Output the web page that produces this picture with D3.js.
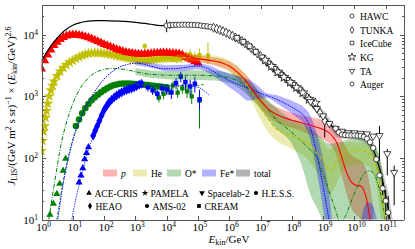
<!DOCTYPE html>
<html>
<head>
<meta charset="utf-8">
<script src="https://d3js.org/d3.v7.min.js"></script>
<style>
  body { margin: 0; background: #fff; }
  svg text { font-family: "Liberation Serif", "DejaVu Serif", serif; fill: #000; }
  .axis path, .axis line { stroke: #555; shape-rendering: crispEdges; }
</style>
</head>
<body>
<svg width="415" height="249"></svg>
<script>
// energies are log10(E_kin/GeV), fluxes are J x E^2.6

// proton data
var pLogE = [0,0.1,0.2,0.3,0.4,0.5,0.6,0.7,0.8,0.9,1.0,1.1,1.2,1.3,1.4,1.5,1.6,1.7,1.8,1.9,2.0,2.1,2.2,2.3,2.4,2.5,2.6,2.7,2.8,2.9,3.0,3.1,3.2,3.3,3.4,3.5,3.6,3.7,3.8,3.9,4.0,4.1,4.2,4.3,4.4,4.5,4.6,4.7,4.8,4.9,5.0];
var pFlux = [2800,3800,4700,5700,6700,7600,8400,9100,9600,9900,10000,10000,9800,9600,9300,9000,8600,8200,7800,7400,7000,6700,6400,6100,5800,5600,5400,5200,5100,5000,4900,4850,4800,4850,4900,4950,5000,5050,5100,5100,5100,5050,5000,4950,4900,4700,4300,4100,3900,3700,3500];

// helium data
var heLogE = [0,0.03,0.06,0.1,0.13,0.16,0.2,0.25,0.3,0.35,0.4,0.5,0.6,0.7,0.8,0.9,1.0,1.1,1.2,1.3,1.4,1.5,1.6,1.7,1.8,1.9,2.0,2.1,2.2,2.3,2.4,2.5,2.6,2.7,2.8,2.9,3.0,3.1,3.2,3.3,3.4,3.5,3.6,3.7,3.8,3.9,4.0,4.1,4.2,4.3,4.4];
var heFlux = [130,190,270,330,450,580,760,1000,1250,1500,1750,2150,2550,2900,3250,3550,3800,4100,4350,4600,4800,4950,5050,5100,5100,5050,5000,4900,4800,4700,4550,4450,4350,4250,4150,4050,4000,3950,3900,3900,3900,3950,4000,4050,4100,4150,4200,4200,4150,4150,4100];
var heErrE = [3.3,4.5,4.65,4.75,4.9,5.05,5.32];
var heErr = [6500,4900,4600,4800,4400,4700,4600];
var heErrLo = [5000,4200,3900,4000,3600,3800,3300];
var heErrHi = [7300,5600,5400,5800,5300,5900,7500];

// oxygen data
var oTriE = [0.27,0.38,0.49,0.58,0.69,0.77];
var oTri = [12,18,26,38,62,97];
var oLogE = [1.1,1.2,1.3,1.4,1.5,1.6,1.7,1.8,1.9,2.0,2.1,2.2,2.3,2.4,2.5,2.6,2.7,2.8,2.9,3.0,3.1,3.2,3.3,3.4,3.5,3.6,3.7,3.8,3.9,4.0];
var oFlux = [330,420,530,640,750,860,960,1060,1160,1260,1350,1440,1510,1560,1600,1620,1620,1610,1600,1580,1560,1550,1540,1520,1500,1480,1460,1440,1420,1400];
var oErrE = [3.6,3.75,3.9,4.05,4.2,4.35,4.5,4.65,4.8,5.05];
var oErr = [1300,950,1100,1250,1500,1150,1350,1200,1000,850];
var oErrLo = [1100,800,900,1050,1250,950,1100,950,750,300];
var oErrHi = [1500,1150,1300,1450,1750,1350,1600,1450,1300,1300];

// iron data
var feTriE = [1.2,1.26,1.32,1.38,1.44,1.5];
var feTri = [40,52,68,95,120,150];
var feLogE = [1.65,1.72,1.78,1.85,1.92,2.0,2.08,2.16,2.24,2.32,2.4,2.48,2.56,2.64,2.72,2.8,2.88,2.96,3.04,3.12,3.2];
var feFlux = [230,280,330,400,490,600,700,800,880,960,1030,1100,1160,1220,1270,1310,1350,1400,1470,1550,1600];
var feErrE = [3.4,3.55,3.7,3.85,4.0,4.15,4.3,4.45,4.6,4.75,4.9,5.05];
var feErr = [1400,1250,1100,1350,1300,1150,1650,2100,1700,1450,1600,900];
var feErrLo = [1200,1050,900,1100,1050,900,1300,1700,1300,1050,1150,600];
var feErrHi = [1600,1450,1300,1600,1550,1400,2000,2500,2100,1850,2050,1250];

// models
var pModE = [4.5,5.0,5.5,5.75,6.0,6.25,6.5,6.75,7.0,7.25,7.5,7.75,8.0,8.25,8.5,8.75,9.0,9.25,9.45,9.6,9.76,9.91,10.05,10.2,10.3,10.4,10.5,10.6];
var pMod = [4600,4100,3750,3500,3100,2500,1850,1250,850,620,510,450,410,380,350,320,290,240,170,100,56,40,36,35,30,20,10,5];
var pModLo = [4200,3600,3200,2900,2600,2000,1450,950,650,470,380,340,310,280,250,230,200,160,100,50,25,15,12,10,7,4,2,1];
var pModHi = [5000,4600,4300,4100,3700,3100,2350,1650,1100,800,680,600,540,500,470,440,410,360,280,200,140,110,100,90,80,60,35,15];

var heModE = [4.3,4.75,5.25,5.75,6.0,6.25,6.5,6.75,7.0,7.25,7.5,7.75,8.0,8.25,8.5,8.75,9.0,9.2,9.4,9.6,9.8,10.0,10.2,10.5,10.7,10.85,11.0];
var heMod = [4200,4300,4100,3600,3100,2400,1700,1100,650,420,300,255,230,205,175,130,90,62,80,115,130,132,130,117,70,30,9];
var heModLo = [3700,3800,3500,3000,2500,1850,1250,750,420,260,190,160,140,120,95,65,40,25,35,60,75,80,80,70,35,10,2];
var heModHi = [4700,4900,4800,4300,3800,3100,2300,1550,1000,680,480,400,360,330,300,240,180,140,150,170,180,180,180,165,120,70,25];

var oStarE = [0.23,0.4,0.65,0.9,1.1,1.3,1.5,1.7,1.9,2.1,2.3,2.5,2.8,3.1,3.4,3.7,4.0,4.3,4.6,5.0,5.5,6.0,6.25,6.5,6.75,7.0,7.25,7.5,7.75,8.0,8.2,8.5,8.8,9.0,9.2,9.4,9.55,9.7,9.9,10.1,10.3,10.45,10.6,10.75,10.9,11.0];
var oStar = [10,35,190,550,1000,1500,2000,2400,2650,2800,2850,2800,2650,2450,2300,2250,2200,2200,2200,2200,2150,2000,1800,1500,1150,850,600,420,330,260,210,150,100,55,28,14,9,11,20,35,55,62,58,38,18,8];
var oBandE = [3.0,3.5,4.0,4.5,5.0,5.5,6.0,6.5,7.0,7.5,8.0,8.3,8.6,8.9,9.2,9.5,9.8,10.1,10.4,10.7,10.9,11.05];
var oBandLo = [2250,2000,1900,1850,1850,1800,1650,1150,620,300,170,80,25,12,4,3,3,3,5,3,3,2];
var oBandHi = [2850,2650,2550,2600,2650,2600,2400,1900,1150,650,420,380,300,220,170,180,200,210,200,150,60,15];

var oLowE = [0.49,0.6,0.75,0.9,1.0,1.2,1.4,1.6,1.8,2.0,2.2,2.4,2.6,2.8,3.0,3.3,3.6,4.0,4.5,5.0,5.25];
var oLow = [10,22,60,130,200,380,600,850,1080,1280,1450,1560,1610,1610,1580,1530,1480,1420,1450,1500,1600];

var feStarE = [0.52,0.7,0.9,1.1,1.3,1.5,1.75,2.0,2.25,2.5,2.75,3.0,3.3,3.6,3.9,4.2,4.5,4.8,5.0,5.4,5.7,6.0,6.3,6.6,6.9,7.2,7.5,7.8,8.1,8.4,8.6,8.75,8.9,9.05,9.2];
var feStar = [10,40,120,280,500,800,1300,1900,2500,3000,3300,3450,3300,3000,2800,2800,2900,3050,3100,2700,2200,1800,1550,1350,1180,1030,900,760,620,470,300,150,65,25,9];
var feBandE = [3.0,3.5,4.0,4.5,5.0,5.4,5.7,6.0,6.3,6.6,6.9,7.2,7.5,7.8,8.1,8.4,8.6,8.75,8.9,9.05,9.2,9.3];
var feBandLo = [3200,2900,2550,2550,2750,2300,1800,1400,1100,850,900,950,780,620,480,340,190,80,30,10,3,2];
var feBandHi = [3700,3500,3200,3250,3450,3100,2650,2300,2100,1900,1500,1120,1050,930,800,650,480,300,160,70,25,8];
var feBand2E = [10.1,10.25,10.4,10.55,10.7,10.85];
var feBand2Lo = [2,2,2,2,2,2];
var feBand2Hi = [4,12,19,18,11,4];

var feLowE = [0.97,1.1,1.25,1.4,1.6,1.8,2.0,2.2,2.4,2.6,2.8,3.0,3.3,3.6,4.0,4.5,5.0,5.35];
var feLow = [10,22,45,90,190,340,520,720,920,1100,1250,1350,1450,1480,1480,1500,1400,1050];

var totE = [0,0.25,0.5,0.75,1.0,1.25,1.5,1.75,2.0,2.5,3.0,3.5,3.8,4.0,4.5,5.0,5.5,6.0,6.5,7.0,7.5,8.0,8.5,9.0,9.5,10.0,10.3,10.5,10.7,10.85,11.0,11.1,11.2];
var tot = [3800,6000,8800,11800,14300,15800,16700,17000,17000,16600,15900,14800,14100,14100,14400,14400,13200,10300,7200,4500,2650,1600,960,500,260,235,215,175,100,55,24,13,6];
var totBandE = [5.0,6.0,7.0,8.0,9.0,9.5,10.0,10.3,10.5,10.7,10.85,11.0,11.1,11.2,11.3];
var totBandLo = [13000,9300,4000,1400,420,210,200,180,140,75,38,15,7,3,1];
var totBandHi = [15800,11400,5000,1800,600,310,275,255,215,135,80,40,25,12,5];

// air shower data
var hawcE = [4.0,4.1,4.2,4.3,4.4,4.5,4.6,4.7,4.8,4.9,5.0,5.1,5.2,5.3,5.4];
var hawc = [14100,14300,14400,14500,14500,14600,14600,14500,14500,14400,14300,14100,13900,13700,13400];
var hawcBarE = [4.0,4.1];
var hawcBarLo = [11000,12500];
var hawcBarHi = [17500,16300];
var tunkaE = [5.5,5.6,5.7,5.8,5.9,6.0,6.1,6.2,6.3,6.4,6.5,6.6,6.7,6.8,6.9,7.0,7.1,7.2,7.3,7.4,7.5,7.6,7.7,7.8,7.9,8.0,8.1,8.2,8.3,8.4,8.5,8.6,8.7,8.8,8.9,9.05];
var tunka = [13000,12500,12000,11400,10800,10200,9600,9000,8500,7900,7300,6700,6100,5500,5000,4500,4000,3600,3200,2900,2600,2350,2150,1950,1750,1600,1450,1320,1200,1080,960,850,740,640,540,400];
var tunkaBarE = [9.05];
var tunkaBarLo = [215];
var tunkaBarHi = [490];
var iceE = [6.25,6.45,6.65,6.85,7.05,7.25,7.45,7.65,7.85,8.05,8.25];
var ice = [8900,7700,6500,5300,4300,3450,2800,2250,1850,1550,1300];
var kgE = [7.15,7.35,7.55,7.75,7.95,8.15,8.35,8.55,8.75];
var kg = [3900,3100,2500,2050,1700,1400,1150,900,780];
var taE = [8.6,8.8,9.0,9.2,9.4,9.6,9.8,10.0,10.2,10.4,10.6,10.8,11.05,11.27];
var ta = [820,630,480,360,300,270,255,255,250,245,225,230,117,58];
var taBarE = [10.8,11.05,11.27];
var taBarLo = [90,52,17];
var taBarHi = [330,140,75];
var augerE = [9.4,9.5,9.6,9.7,9.8,9.9,10.0,10.1,10.2,10.3,10.4,10.5,10.6,10.7,10.8,10.9,11.0,11.08];
var auger = [300,260,240,235,232,232,232,230,228,220,205,180,145,95,52,32,20,13];
var augerBarE = [10.9,11.0,11.08];
var augerBarLo = [25,12,5];
var augerBarHi = [40,30,24];

var xTicks = [0,1,2,3,4,5,6,7,8,9,10,11];
var yTicks = [1,2,3,4];

var RED = "#ff0000", YEL = "#bfbf00", GRN = "#008000", BLU = "#0000ff", BLK = "#000000";

// scales
var x = d3.scaleLog().domain([1, 3.7e11]).range([41.5, 403.5]);
var y = d3.scaleLog().domain([10, 3.1e4]).range([219.5, 4.5]);

var svg = d3.select("svg");
svg.append("defs").append("clipPath").attr("id", "plot")
  .append("rect").attr("x", 41.5).attr("y", 4.5).attr("width", 362).attr("height", 215);
var plot = svg.append("g").attr("clip-path", "url(#plot)");

function pts(es, vs) { return es.map(function(e, i) { return [Math.pow(10, e), vs[i]]; }); }
function band(es, lo, hi) { return es.map(function(e, i) { return [Math.pow(10, e), lo[i], hi[i]]; }); }

var line = d3.line().x(function(d) { return x(d[0]); }).y(function(d) { return y(d[1]); }).curve(d3.curveMonotoneX);
var area = d3.area().x(function(d) { return x(d[0]); })
  .y0(function(d) { return y(d[1]); }).y1(function(d) { return y(d[2]); }).curve(d3.curveMonotoneX);

function sym(type, size) { return d3.symbol().type(type).size(size); }

function markers(g, data, type, size, fill, stroke, rot) {
  g.selectAll(null).data(data).enter().append("path")
    .attr("d", sym(type, size))
    .attr("transform", function(d) { return "translate(" + x(d[0]) + "," + y(d[1]) + ")" + (rot ? " rotate(180)" : ""); })
    .attr("fill", fill).attr("stroke", stroke || "none").attr("stroke-width", 0.7);
}

function errbars(g, es, lo, hi, color) {
  g.selectAll(null).data(band(es, lo, hi)).enter().append("line")
    .attr("x1", function(d) { return x(d[0]); }).attr("x2", function(d) { return x(d[0]); })
    .attr("y1", function(d) { return y(d[1]); }).attr("y2", function(d) { return y(d[2]); })
    .attr("stroke", color).attr("stroke-width", 1);
}

// data points
var gData = plot.append("g");
markers(gData, pts(heLogE, heFlux), d3.symbolStar, 40, YEL);
errbars(gData, heErrE, heErrLo, heErrHi, YEL);
markers(gData, pts(heErrE, heErr), d3.symbolSquare, 16, YEL);
markers(gData, pts(pLogE, pFlux), d3.symbolTriangle, 36, RED);
markers(gData, pts(oTriE, oTri), d3.symbolTriangle, 22, GRN);
markers(gData, pts(oLogE, oFlux), d3.symbolCircle, 34, GRN);
errbars(gData, oErrE, oErrLo, oErrHi, GRN);
markers(gData, pts(oErrE, oErr), d3.symbolSquare, 18, GRN);
markers(gData, pts(feTriE, feTri), d3.symbolTriangle, 22, BLU);
markers(gData, pts(feLogE, feFlux), d3.symbolDiamond, 30, BLU);
errbars(gData, feErrE, feErrLo, feErrHi, BLU);
markers(gData, pts(feErrE, feErr), d3.symbolSquare, 20, BLU);

// model bands
var gBand = plot.append("g").attr("fill-opacity", 0.3);
gBand.append("path").attr("d", area(band(pModE, pModLo, pModHi))).attr("fill", RED);
gBand.append("path").attr("d", area(band(heModE, heModLo, heModHi))).attr("fill", YEL);
gBand.append("path").attr("d", area(band(oBandE, oBandLo, oBandHi))).attr("fill", GRN);
gBand.append("path").attr("d", area(band(feBandE, feBandLo, feBandHi))).attr("fill", BLU);
gBand.append("path").attr("d", area(band(feBand2E, feBand2Lo, feBand2Hi))).attr("fill", BLU);
gBand.append("path").attr("d", area(band(totBandE, totBandLo, totBandHi))).attr("fill", BLK).attr("fill-opacity", 0.2);

// model lines
var gLine = plot.append("g").attr("fill", "none");
gLine.append("path").attr("d", line(pts(oLowE, oLow))).attr("stroke", GRN).attr("stroke-width", 0.8).attr("stroke-dasharray", "3,2");
gLine.append("path").attr("d", line(pts(feLowE, feLow))).attr("stroke", BLU).attr("stroke-width", 0.8).attr("stroke-dasharray", "1.5,1");
gLine.append("path").attr("d", line(pts(oStarE, oStar))).attr("stroke", GRN).attr("stroke-width", 1).attr("stroke-dasharray", "4,1.5,1,1.5");
gLine.append("path").attr("d", line(pts(feStarE, feStar))).attr("stroke", BLU).attr("stroke-width", 1).attr("stroke-dasharray", "1.5,1");
gLine.append("path").attr("d", line(pts(heModE, heMod))).attr("stroke", YEL).attr("stroke-width", 1.1).attr("stroke-dasharray", "4,2");
gLine.append("path").attr("d", line(pts(pModE, pMod))).attr("stroke", RED).attr("stroke-width", 1.1);
gLine.append("path").attr("d", line(pts(totE, tot))).attr("stroke", BLK).attr("stroke-width", 1.2);

// air shower data
var gAir = plot.append("g");
errbars(gAir, hawcBarE, hawcBarLo, hawcBarHi, BLK);
errbars(gAir, tunkaBarE, tunkaBarLo, tunkaBarHi, BLK);
errbars(gAir, taBarE, taBarLo, taBarHi, BLK);
errbars(gAir, augerBarE, augerBarLo, augerBarHi, BLK);
markers(gAir, pts(hawcE, hawc), d3.symbolCircle, 22, "#fff", BLK);
markers(gAir, pts(tunkaE, tunka), d3.symbolDiamond, 24, "#fff", BLK);
markers(gAir, pts(iceE, ice), d3.symbolSquare, 22, "#fff", BLK);
markers(gAir, pts(kgE, kg), d3.symbolStar, 30, "#fff", BLK);
markers(gAir, pts(taE, ta), d3.symbolTriangle, 22, "#fff", BLK, true);
markers(gAir, pts(augerE, auger), d3.symbolCircle, 22, "#fff", BLK);

// axes, ticks inward on all four sides
var yMinor = [];
[1,2,3,4].forEach(function(k) {
  [2,3,4,5,6,7,8,9].forEach(function(m) { var v = m * Math.pow(10, k); if (v < 3.1e4) yMinor.push(v); });
});
var xVals = xTicks.map(function(k) { return Math.pow(10, k); });
var yVals = yTicks.map(function(k) { return Math.pow(10, k); });

svg.append("g").attr("class", "axis").attr("transform", "translate(0,219.5)")
  .call(d3.axisBottom(x).tickValues(xVals).tickSize(-4).tickSizeOuter(0).tickFormat(""));
svg.append("g").attr("class", "axis").attr("transform", "translate(0,4.5)")
  .call(d3.axisTop(x).tickValues(xVals).tickSize(-4).tickSizeOuter(0).tickFormat(""));
svg.append("g").attr("class", "axis").attr("transform", "translate(41.5,0)")
  .call(d3.axisLeft(y).tickValues(yVals).tickSize(-4).tickSizeOuter(0).tickFormat(""));
svg.append("g").attr("class", "axis").attr("transform", "translate(403.5,0)")
  .call(d3.axisRight(y).tickValues(yVals).tickSize(-4).tickSizeOuter(0).tickFormat(""));
svg.append("g").attr("class", "axis").attr("transform", "translate(41.5,0)")
  .call(d3.axisLeft(y).tickValues(yMinor).tickSize(-2).tickSizeOuter(0).tickFormat(""))
  .select(".domain").remove();
svg.append("g").attr("class", "axis").attr("transform", "translate(403.5,0)")
  .call(d3.axisRight(y).tickValues(yMinor).tickSize(-2).tickSizeOuter(0).tickFormat(""))
  .select(".domain").remove();

// tick labels
xTicks.forEach(function(k) {
  var t = svg.append("text").attr("x", x(Math.pow(10, k)) + 2).attr("y", 231)
    .attr("text-anchor", "middle").attr("font-size", 11);
  t.append("tspan").text("10");
  t.append("tspan").attr("dy", -4).attr("font-size", 7.5).text(k);
});
yTicks.forEach(function(k) {
  var t = svg.append("text").attr("x", 38).attr("y", y(Math.pow(10, k)) + 4)
    .attr("text-anchor", "end").attr("font-size", 11);
  t.append("tspan").text("10");
  t.append("tspan").attr("dy", -4).attr("font-size", 7.5).text(k);
});

// axis titles
var xl = svg.append("text").attr("x", 229).attr("y", 243).attr("text-anchor", "middle").attr("font-size", 11);
xl.append("tspan").attr("font-style", "italic").text("E");
xl.append("tspan").attr("font-size", 8).attr("dy", 2).text("kin");
xl.append("tspan").attr("dy", -2).text("/GeV");

var yl = svg.append("text").attr("transform", "translate(15,106) rotate(-90)")
  .attr("text-anchor", "middle").attr("font-size", 11);
yl.append("tspan").attr("font-style", "italic").text("J");
yl.append("tspan").attr("font-size", 8).attr("dy", 2).text("LIS");
yl.append("tspan").attr("dy", -2).text("/(GeV m");
yl.append("tspan").attr("font-size", 8).attr("dy", -4).text("2");
yl.append("tspan").attr("dy", 4).text(" s sr)");
yl.append("tspan").attr("font-size", 8).attr("dy", -4).text("\u22121");
yl.append("tspan").attr("dy", 4).text(" \u00d7 (");
yl.append("tspan").attr("font-style", "italic").text("E");
yl.append("tspan").attr("font-size", 8).attr("dy", 2).text("kin");
yl.append("tspan").attr("dy", -2).text("/GeV)");
yl.append("tspan").attr("font-size", 8).attr("dy", -4).text("2.6");

// legends
var airNames = ["HAWC", "TUNKA", "IceCube", "KG", "TA", "Auger"];
var airSyms = [d3.symbolCircle, d3.symbolDiamond, d3.symbolSquare, d3.symbolStar, d3.symbolTriangle, d3.symbolCircle];
var airRows = [16, 30, 43, 57, 71, 84];
airNames.forEach(function(n, i) {
  svg.append("path").attr("d", sym(airSyms[i], i === 3 ? 20 : 13)())
    .attr("transform", "translate(352," + airRows[i] + ")" + (n === "TA" ? " rotate(180)" : ""))
    .attr("fill", "#fff").attr("stroke", BLK).attr("stroke-width", 0.7);
  svg.append("text").attr("x", 360).attr("y", airRows[i] + 3.5).attr("font-size", 9.5).text(n);
});

var bandNames = ["p", "He", "O*", "Fe*", "total"];
var bandColors = [RED, YEL, GRN, BLU, BLK];
var bandX = [103, 133, 167, 202, 236];
bandNames.forEach(function(n, i) {
  svg.append("rect").attr("x", bandX[i]).attr("y", 169.5).attr("width", 14).attr("height", 7)
    .attr("fill", bandColors[i]).attr("fill-opacity", 0.3);
  svg.append("text").attr("x", bandX[i] + 18).attr("y", 176.5).attr("font-size", 9.5)
    .attr("font-style", n === "p" ? "italic" : null).text(n);
});

var expNames = ["ACE-CRIS", "PAMELA", "Spacelab-2", "H.E.S.S.", "HEAO", "AMS-02", "CREAM"];
var expSyms = [d3.symbolTriangle, d3.symbolStar, d3.symbolTriangle, d3.symbolCircle, d3.symbolDiamond, d3.symbolCircle, d3.symbolSquare];
var expX = [89, 145, 202, 256, 90, 147, 199];
var expY = [193, 193, 193, 193, 206, 206, 206];
expNames.forEach(function(n, i) {
  svg.append("path").attr("d", sym(expSyms[i], 14)())
    .attr("transform", "translate(" + expX[i] + "," + expY[i] + ")" + (n === "Spacelab-2" ? " rotate(180)" : ""))
    .attr("fill", BLK);
  svg.append("text").attr("x", expX[i] + 5.5).attr("y", expY[i] + 3.5).attr("font-size", 9.5).text(n);
});
</script>
</body>
</html>
